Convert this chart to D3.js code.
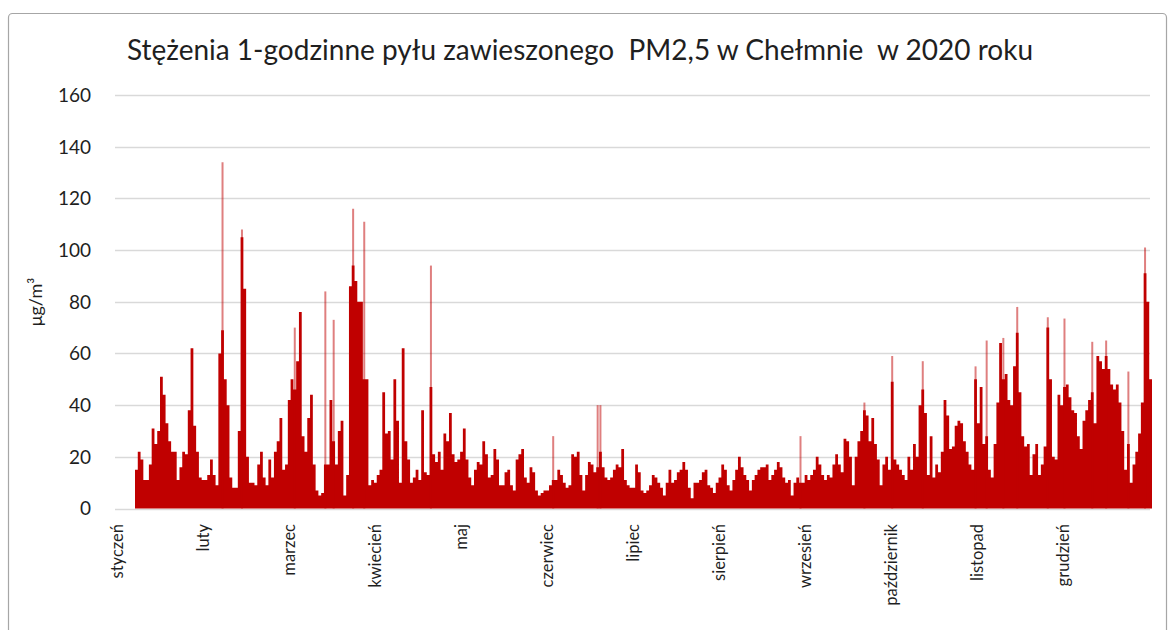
<!DOCTYPE html>
<html>
<head>
<meta charset="utf-8">
<script src="https://cdn.jsdelivr.net/npm/d3@7"></script>
<style>
  body { margin: 0; background: #fff; }
  svg text { font-family: Lato, "Open Sans", sans-serif; }
</style>
</head>
<body>
<div id="chart"></div>
<script>
var months = ["styczeń", "luty", "marzec", "kwiecień", "maj", "czerwiec",
    "lipiec", "sierpień", "wrzesień", "październik", "listopad", "grudzień"];

var yTicks = [0, 20, 40, 60, 80, 100, 120, 140, 160];

// highest hourly value seen in each day of 2020
var dailyPeak = [
    15, 22, 19, 11, 11, 17, 31, 25, 30, 51,
    44, 33, 26, 22, 22, 11, 16, 22, 21, 38,
    62, 32, 22, 12, 11, 11, 13, 19, 13, 9,
    60, 69, 50, 40, 12, 8, 8, 30, 105, 85,
    20, 10, 10, 9, 17, 22, 12, 9, 19, 12,
    22, 26, 35, 15, 17, 42, 50, 46, 57, 76,
    28, 22, 35, 44, 17, 7, 5, 6, 17, 17,
    42, 26, 17, 30, 34, 5, 13, 86, 94, 88,
    80, 80, 50, 50, 9, 11, 10, 13, 15, 45,
    29, 30, 19, 50, 34, 10, 62, 26, 19, 10,
    12, 15, 11, 38, 14, 13, 47, 21, 18, 22,
    15, 29, 26, 37, 21, 18, 19, 22, 31, 19,
    12, 9, 15, 18, 17, 26, 21, 12, 13, 23,
    19, 9, 9, 14, 15, 9, 7, 19, 21, 23,
    12, 10, 16, 14, 7, 5, 6, 7, 7, 9,
    11, 11, 15, 13, 10, 8, 9, 21, 20, 22,
    13, 7, 13, 18, 17, 14, 16, 22, 16, 12,
    11, 12, 15, 17, 16, 23, 11, 9, 8, 8,
    17, 14, 7, 6, 7, 9, 13, 12, 10, 8,
    5, 10, 15, 10, 11, 14, 15, 18, 15, 8,
    4, 10, 10, 11, 14, 15, 9, 8, 6, 10,
    12, 17, 15, 9, 7, 11, 15, 20, 16, 13,
    11, 7, 11, 13, 15, 16, 16, 17, 11, 13,
    15, 18, 16, 12, 10, 11, 5, 10, 12, 10,
    10, 13, 11, 13, 15, 20, 17, 13, 11, 13,
    12, 17, 21, 17, 14, 27, 26, 20, 9, 20,
    26, 30, 38, 36, 26, 35, 25, 19, 9, 17,
    20, 15, 49, 19, 17, 15, 13, 11, 20, 15,
    25, 20, 40, 46, 37, 13, 28, 12, 17, 14,
    22, 42, 36, 23, 24, 32, 34, 33, 26, 22,
    17, 15, 50, 33, 47, 25, 28, 15, 12, 25,
    41, 64, 50, 52, 42, 40, 55, 68, 45, 28,
    24, 25, 13, 21, 25, 13, 17, 24, 70, 50,
    20, 19, 44, 40, 47, 48, 43, 38, 37, 28,
    23, 34, 38, 42, 45, 33, 59, 57, 54, 59,
    54, 48, 46, 48, 41, 30, 15, 25, 10, 17,
    22, 29, 41, 91, 80, 50
];

// single-hour spikes that stick out above the daily profile
var spikeDays = [31, 38, 57, 68, 71, 78, 82, 106, 150, 166, 167, 239, 262,
    272, 283, 302, 306, 312, 317, 328, 334, 344, 349, 357, 363];
var spikeValues = [134, 108, 70, 84, 73, 116, 111, 94, 28, 40, 40, 28, 41,
    59, 57, 55, 65, 66, 78, 74, 73.5, 64.5, 65, 53, 101];

var width = 1170,
    height = 630;

var svg = d3.select("#chart").append("svg")
    .attr("width", width)
    .attr("height", height);

// frame round the chart
svg.append("rect")
    .attr("x", 8.5)
    .attr("y", 13.5)
    .attr("width", 1158)
    .attr("height", 660)
    .attr("rx", 4)
    .attr("fill", "none")
    .attr("stroke", "#a6a6a6")
    .attr("stroke-width", 1.2);

var x = d3.scaleLinear()
    .domain([0, dailyPeak.length])
    .range([135, 1152]);

var y = d3.scaleLinear()
    .domain([0, 160])
    .range([508.5, 95]);

// grid
svg.append("g")
    .selectAll("line")
    .data(yTicks)
    .enter().append("line")
    .attr("x1", 115)
    .attr("x2", 1150)
    .attr("y1", function(d) { return Math.round(y(d)) + 0.5; })
    .attr("y2", function(d) { return Math.round(y(d)) + 0.5; })
    .attr("stroke", "#d9d9d9")
    .attr("stroke-width", 1.3);

svg.append("g")
    .selectAll("text")
    .data(yTicks)
    .enter().append("text")
    .attr("x", 91)
    .attr("y", function(d) { return y(d); })
    .attr("dy", "0.36em")
    .attr("text-anchor", "end")
    .attr("font-size", 19)
    .attr("fill", "#1f1f1f")
    .text(function(d) { return d; });

// series
var points = dailyPeak.map(function(v, i) { return {i: i, v: v}; });
points.push({i: dailyPeak.length, v: dailyPeak[dailyPeak.length - 1]});

var area = d3.area()
    .curve(d3.curveStepAfter)
    .x(function(d) { return x(d.i); })
    .y0(y(0))
    .y1(function(d) { return y(d.v); });

svg.append("path")
    .datum(points)
    .attr("d", area)
    .attr("fill", "#c00000");

svg.append("g")
    .selectAll("line")
    .data(spikeDays)
    .enter().append("line")
    .attr("x1", function(d) { return x(d + 0.5); })
    .attr("x2", function(d) { return x(d + 0.5); })
    .attr("y1", y(0))
    .attr("y2", function(d, i) { return y(spikeValues[i]); })
    .attr("stroke", "#c00000")
    .attr("stroke-opacity", 0.5)
    .attr("stroke-width", 2);

// month labels
var mx = d3.scalePoint()
    .domain(months)
    .range([117, 1063]);

svg.append("g")
    .selectAll("text")
    .data(months)
    .enter().append("text")
    .attr("transform", function(d) { return "translate(" + mx(d) + ",524)rotate(-90)"; })
    .attr("dy", "0.35em")
    .attr("text-anchor", "end")
    .attr("font-size", 16.5)
    .attr("fill", "#1f1f1f")
    .text(function(d) { return d; });

// axis title
svg.append("text")
    .attr("transform", "translate(36,302)rotate(-90)")
    .attr("dy", "0.35em")
    .attr("text-anchor", "middle")
    .attr("font-size", 18)
    .attr("fill", "#1f1f1f")
    .text("μg/m³");

svg.append("text")
    .attr("x", 580)
    .attr("y", 60)
    .attr("text-anchor", "middle")
    .attr("font-size", 28)
    .attr("fill", "#1f1f1f")
    .style("white-space", "pre")
    .text("Stężenia 1-godzinne pyłu zawieszonego  PM2,5 w Chełmnie  w 2020 roku");
</script>
</body>
</html>
